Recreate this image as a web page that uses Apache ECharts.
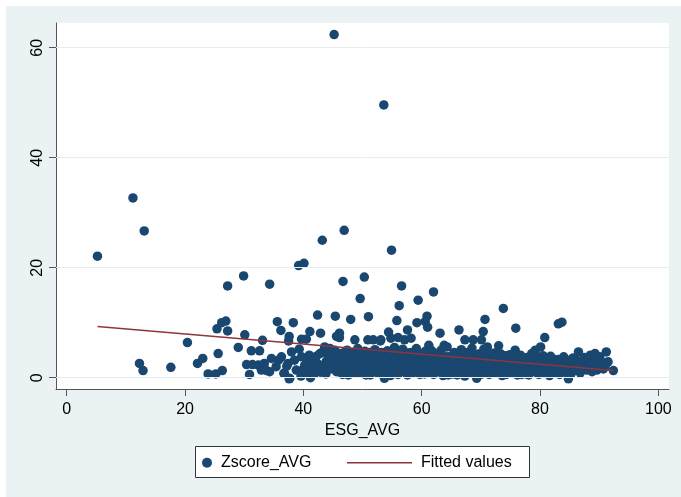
<!DOCTYPE html>
<html>
<head>
<meta charset="utf-8">
<script src="https://cdn.jsdelivr.net/npm/echarts@6.0.0/dist/echarts.min.js"></script>
<style>
html,body{margin:0;padding:0;background:#ffffff;}
#chart{position:absolute;left:6px;top:6px;width:675px;height:491px;}
</style>
</head>
<body>
<div id="chart"></div>
<script>
// ---- data (ESG_AVG, Zscore_AVG) ----
const outlierPoints = [
  [5.2,22.1],[11.2,32.7],[13.1,26.7],[12.3,2.6],[12.9,1.3],[17.6,1.9],
  [45.2,62.4],[53.6,49.6],[43.2,25.0],[46.9,26.8],[54.9,23.2],
  [29.9,18.5],[27.2,16.7],[39.2,20.4],[40.1,20.8],[34.3,17.0],
  [46.7,17.5],[50.3,18.3],[56.6,16.7],[62.0,15.6],[49.6,14.4],[56.2,13.1],[59.4,14.1],[73.8,12.6]
];
const midPoints = [
  [20.4,6.4],[22.1,2.6],[23.0,3.5],[23.9,0.7],[25.2,0.7],[26.3,1.3],[25.6,4.4],[25.4,8.9],[26.2,10.0],
  [26.9,10.3],[27.2,8.5],[29.0,5.5],[30.1,7.8],[31.2,4.9],[32.6,4.9],[33.1,6.8],[30.4,2.4],[31.4,2.4],
  [30.9,0.6],[32.4,2.3],[35.6,10.2],[36.2,8.6],[38.3,10.0],[37.6,7.5],[37.5,6.7],[39.7,7.0],[40.5,7.0],
  [41.1,8.4],[42.4,11.4],[42.9,8.1],[45.4,11.2],[45.6,7.5],[46.1,8.1],[46.1,7.3],[48.0,10.6],[51.0,11.1],
  [55.8,10.4],[59.2,10.0],[54.4,8.3],[57.6,8.7],[48.7,6.9],[50.9,6.9],[53.1,6.9],[54.8,7.2],[56.0,7.3],
  [57.1,6.9],[58.2,7.2],[60.9,11.2],[60.6,10.2],[61.0,9.2],[63.1,8.1],[66.3,8.7],[70.7,10.6],[70.4,8.4],
  [67.3,6.9],[68.7,6.9],[70.1,6.9],[61.2,5.9],[63.8,5.9],[64.3,5.6],[71.1,5.6],[75.9,9.0],[83.1,9.8],
  [83.7,10.1],[80.8,7.3],[80.1,5.6],[79.2,5.0],[73.0,5.8],[75.8,5.0],[51.8,6.9],[53.0,6.7],[43.6,5.6],
  [44.5,5.3],[45.3,5.0],[36.7,0.8],[37.6,-0.2],[39.6,0.3]
];
const densePoints = [
  [32.9,1.4],[33.4,2.6],[33.8,1.3],[34.3,1.1],[34.6,3.5],[35.4,2.0],[35.8,3.2],[36.3,3.8],[36.8,0.8],[37.2,2.1],
  [37.4,2.6],[37.7,-0.1],[38.0,4.7],[38.5,3.2],[38.8,1.4],[39.3,5.2],[39.7,0.5],[39.7,3.8],[40.2,2.2],[40.5,3.5],
  [40.8,1.1],[41.2,0.0],[41.4,2.8],[41.7,1.7],[42.2,3.9],[42.2,1.7],[42.8,4.4],[42.6,2.4],[43.3,4.7],[43.3,1.4],
  [43.9,3.0],[44.2,2.6],[44.7,3.8],[45.0,2.0],[45.6,1.1],[45.8,3.3],[46.2,4.4],[46.4,2.2],[46.6,0.6],
  [47.0,3.6],[47.2,1.5],[47.4,5.0],[47.8,2.7],[48.1,4.2],[48.3,0.9],[48.6,3.1],[48.9,1.9],[49.2,5.3],[49.5,2.5],
  [49.8,4.0],[50.1,1.2],[50.3,3.4],[50.6,0.5],[50.9,2.3],[51.2,4.6],[51.5,1.6],[51.8,3.0],[52.1,5.1],[52.4,2.0],
  [52.7,0.8],[53.0,3.8],[53.3,1.4],[53.7,-0.1],[53.9,2.7],[54.2,4.9],[54.5,1.9],[54.8,3.3],[55.1,0.7],[55.4,5.5],
  [55.6,2.4],[55.9,4.1],[56.2,1.1],[56.5,3.0],[56.8,5.2],[57.0,1.8],[57.3,3.8],[57.6,0.5],[57.9,2.6],[58.2,4.6],
  [58.5,1.3],[58.8,3.3],[59.1,5.3],[59.4,2.1],[59.7,0.6],[60.0,3.9],[60.3,1.6],[60.6,4.8],[60.9,2.8],[61.5,0.9],
  [61.8,3.4],[62.1,2.0],[62.4,4.4],[62.7,1.2],[63.0,3.1],[63.3,5.0],[63.6,0.4],[64.1,2.5],[64.6,1.5],[64.9,3.7],
  [65.2,0.7],[65.5,4.6],[65.8,2.3],[66.1,3.5],[66.4,1.0],[66.7,5.1],[67.0,2.8],[67.3,0.3],[67.6,4.0],[67.9,1.8],
  [68.2,3.3],[68.5,5.4],[68.8,0.9],[69.1,2.4],[69.3,-0.1],[69.6,4.3],[69.9,1.5],[70.2,3.0],[70.5,5.2],[70.8,2.0],
  [71.4,0.6],[71.7,3.6],[72.0,1.9],[72.3,4.5],[72.6,2.7],[72.9,1.1],[73.3,3.3],[73.6,0.4],[73.9,2.2],[74.2,4.0],
  [74.5,1.4],[74.8,3.0],[75.1,0.8],[75.4,2.5],[76.0,1.7],[76.3,3.6],[76.7,4.1],[76.9,0.6],[77.2,2.9],[77.5,1.3],
  [77.8,3.7],[78.1,0.5],[78.4,2.4],[78.7,3.8],[79.0,1.7],[79.5,2.9],[79.8,0.6],[80.4,2.1],[80.7,3.4],[81.0,1.2],
  [81.3,2.6],[81.6,0.4],[81.9,3.1],[82.2,1.8],[82.5,2.5],[82.8,0.9],[83.1,3.3],[83.4,1.5],[83.7,2.4],[84.0,3.8],
  [84.3,1.0],[84.8,-0.2],[85.1,2.6],[85.4,1.6],[85.7,2.4],[86.0,3.4],[86.2,1.4],[86.5,4.7],[86.9,2.0],[87.3,3.1],
  [87.6,1.7],[88.0,2.6],[88.5,4.1],[88.8,1.1],[89.3,4.4],[89.6,1.4],[90.1,3.8],[90.4,2.3],[91.0,2.0],[91.2,4.7],
  [91.5,2.9],[92.4,1.3]
];
const corePoints = [
  [40.0,1.5],[40.6,2.9],[41.0,4.1],[41.9,0.8],[42.0,3.2],[42.9,1.0],[43.0,2.2],[43.8,0.7],[44.1,4.2],[44.6,1.6],
  [45.1,3.5],[45.5,4.3],[46.0,1.3],[46.3,3.0],[46.9,4.6],[47.3,2.3],[47.6,0.5],[47.9,3.9],[48.4,1.8],[48.7,4.7],
  [49.0,2.9],[49.3,0.8],[49.6,3.6],[50.0,2.0],[50.4,4.8],[50.7,1.6],[51.0,3.6],[51.3,0.5],[51.6,2.8],[52.0,1.4],
  [52.3,4.0],[52.6,3.0],[52.9,1.9],[53.2,4.6],[53.5,2.9],[53.8,0.9],[54.1,3.6],[54.4,2.3],[54.7,0.4],[55.0,4.2],
  [55.3,1.6],[55.7,3.2],[56.0,0.6],[56.3,2.1],[56.6,4.4],[56.9,2.9],[57.2,1.0],[57.5,4.5],[57.8,1.9],[58.1,3.2],
  [58.4,0.8],[58.7,2.2],[59.0,4.0],[59.3,1.2],[59.6,3.0],[59.9,2.4],[60.2,4.4],[60.5,0.7],[60.8,2.2],[61.1,3.7],
  [61.4,1.8],[61.7,4.9],[62.0,0.6],[62.3,2.9],[62.6,3.9],[62.9,1.7],[63.2,4.1],[63.5,2.2],[63.9,1.1],[64.2,3.8],
  [64.5,0.5],[64.8,2.6],[65.1,4.0],[65.4,1.7],[65.7,3.2],[66.0,0.5],[66.3,2.6],[66.6,4.3],[66.9,1.5],[67.2,3.6],
  [67.5,2.1],[67.8,4.6],[68.1,0.8],[68.4,2.4],[68.7,4.1],[69.0,1.3],[69.4,3.4],[69.7,2.4],[70.0,0.6],[70.3,4.1],
  [70.6,1.0],[70.9,3.5],[71.2,2.3],[71.5,4.4],[71.8,1.1],[72.1,3.1],[72.4,0.8],[72.7,3.9],[73.1,2.0],[73.4,4.3],
  [73.7,1.6],[74.0,3.1],[74.3,0.6],[74.6,2.3],[74.9,4.2],[75.2,1.6],[75.5,3.8],[75.9,2.1],[76.2,0.5],[76.5,2.6],
  [76.8,1.4],[77.1,3.6],[77.4,2.2],[77.7,0.7],[78.0,2.9],[78.3,1.4],[78.6,4.4],[78.9,2.1],[79.3,1.0],[79.6,3.7],
  [79.9,2.2],[80.2,1.5],[80.5,4.0],[80.8,0.8],[81.1,2.9],[81.4,1.9],[81.8,3.9],[82.1,0.8],[82.4,3.3],[82.7,1.6],
  [83.0,2.7],[83.3,0.6],[83.6,3.1],[83.9,1.7],[84.2,2.9],[84.6,1.2],[85.0,3.2],[85.3,0.8],[85.6,3.6],[86.4,2.8],
  [86.8,0.9],[87.1,2.4],[87.5,3.7],[87.9,1.4],[88.2,3.2],[88.6,2.0],[89.0,3.0],[89.4,2.2],[89.9,1.9],[90.3,3.0],
  [90.7,1.6]
];
// fitted values (linear fit endpoints)
const fittedX = [5.2, 92.4];
const fittedY = [9.3, 1.3];
// axis ticks
const xTicks = [0, 20, 40, 60, 80, 100];
const yTicks = [0, 20, 40, 60];

const FONT = "'Liberation Sans', Arial, Helvetica, sans-serif";
const scatterData = outlierPoints.concat(midPoints, densePoints, corePoints);
const fittedData = fittedX.map((x, i) => [x, fittedY[i]]);

const chart = echarts.init(document.getElementById('chart'), null, {renderer: 'canvas'});
chart.setOption({
  animation: false,
  backgroundColor: '#eaf2f3',
  textStyle: {fontFamily: FONT},
  grid: {left: 50, right: 12, top: 17, bottom: 108, show: true, backgroundColor: '#ffffff', borderWidth: 0},
  xAxis: {
    type: 'value', min: -1.81, max: 101.8,
    name: 'ESG_AVG', nameLocation: 'middle', nameGap: 25,
    nameTextStyle: {fontSize: 16, color: '#000', fontFamily: FONT},
    axisLine: {show: true, onZero: false, lineStyle: {color: '#555', width: 1}},
    axisTick: {show: true, length: 7, inside: false, customValues: xTicks, lineStyle: {color: '#555'}},
    axisLabel: {customValues: xTicks, fontSize: 16, color: '#000', margin: 13, fontFamily: FONT},
    splitLine: {show: false}
  },
  yAxis: {
    type: 'value', min: -2.05, max: 64.5,
    axisLine: {show: true, onZero: false, lineStyle: {color: '#555', width: 1}},
    axisTick: {show: true, length: 7, inside: false, customValues: yTicks, lineStyle: {color: '#555'}},
    axisLabel: {customValues: yTicks, fontSize: 16, color: '#000', rotate: 90, margin: 10, fontFamily: FONT},
    splitLine: {show: false}
  },
  legend: [
    {
      data: [{name: 'Zscore_AVG', icon: 'circle'}],
      left: 196, top: 448.8, itemWidth: 10, itemHeight: 10, padding: 0,
      textStyle: {fontSize: 16, color: '#000', fontFamily: FONT, padding: [0, 0, 0, 4]},
      selectedMode: false
    },
    {
      data: [{name: 'Fitted values', icon: 'rect', itemStyle: {color: '#90353b'}}],
      left: 341, top: 448.8, itemWidth: 65, itemHeight: 1.6, padding: 0,
      textStyle: {fontSize: 16, color: '#000', fontFamily: FONT, padding: [0, 0, 0, 4]},
      selectedMode: false
    }
  ],
  graphic: [
    {type: 'rect', left: 189, top: 440, shape: {width: 334, height: 31}, z: -1,
     style: {fill: '#ffffff', stroke: '#333', lineWidth: 1}}
  ],
  series: [
    {
      name: 'grid', type: 'scatter', data: [], z: 1, silent: true,
      markLine: {silent: true, symbol: ['none', 'none'], label: {show: false},
        lineStyle: {color: '#e4edef', width: 1, type: 'solid'},
        data: yTicks.map(v => ({yAxis: v}))}
    },
    {
      name: 'Zscore_AVG', type: 'scatter', data: scatterData, z: 2,
      symbol: 'circle', symbolSize: 9.5,
      itemStyle: {color: '#1a476f', opacity: 1}
    },
    {
      name: 'Fitted values', type: 'line', data: fittedData, z: 3,
      symbol: 'none', showSymbol: false,
      lineStyle: {color: '#90353b', width: 1.5},
      itemStyle: {color: '#90353b'}
    }
  ]
});
</script>
</body>
</html>
